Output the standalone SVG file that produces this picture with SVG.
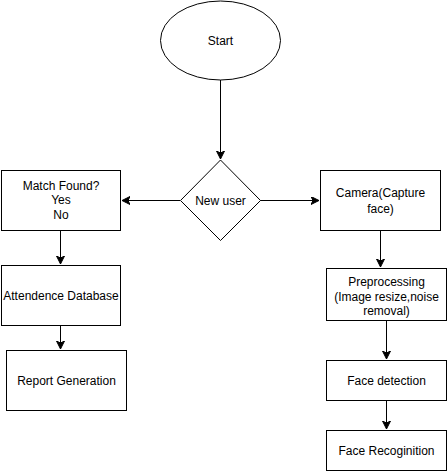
<svg xmlns="http://www.w3.org/2000/svg" width="447" height="471" viewBox="0 0 447 471">
<defs>
<marker id="arr" markerWidth="10" markerHeight="10" refX="8" refY="4" orient="auto" markerUnits="userSpaceOnUse">
<path d="M0,0 L8,4 L0,8 L2,4 Z" fill="#000" stroke="#000" stroke-width="1"/>
</marker>
</defs>
<style>
.n{fill:#fff;stroke:#000;stroke-width:1}
.t{font-family:"Liberation Sans",Arial,sans-serif;font-size:12px;fill:#000;text-anchor:middle}
.c{fill:none;stroke:#000;stroke-width:1;marker-end:url(#arr)}
</style>
<rect width="447" height="471" fill="#fff"/>
<g id="connectors">
<path class="c" d="M220.5,80 L220.5,159"/>
<path class="c" d="M180,200.5 L122,200.5"/>
<path class="c" d="M260,200.5 L319,200.5"/>
<path class="c" d="M60.5,230 L60.5,264"/>
<path class="c" d="M60.5,325 L60.5,349"/>
<path class="c" d="M380.5,230 L380.5,267"/>
<path class="c" d="M386.5,320 L386.5,359"/>
<path class="c" d="M386.5,400 L386.5,429"/>
</g>
<g id="start">
<ellipse class="n" cx="220.5" cy="40.5" rx="60" ry="39.5"/>
<text class="t" x="220.5" y="45">Start</text>
</g>
<g id="newuser">
<path class="n" d="M220.5,160 L260.5,200.5 L220.5,240.5 L180.5,200.5 Z"/>
<text class="t" x="220.5" y="205">New user</text>
</g>
<g id="match">
<rect class="n" x="1.5" y="170.5" width="119" height="60"/>
<text class="t" x="61" y="190">Match Found?</text>
<text class="t" x="61" y="204">Yes</text>
<text class="t" x="61" y="219">No</text>
</g>
<g id="attend">
<rect class="n" x="1.5" y="265.5" width="119" height="60"/>
<text class="t" x="61" y="300">Attendence Database</text>
</g>
<g id="report">
<rect class="n" x="6.5" y="350.5" width="120" height="60"/>
<text class="t" x="66.5" y="385">Report Generation</text>
</g>
<g id="camera">
<rect class="n" x="320.5" y="170.5" width="120" height="60"/>
<text class="t" x="380.5" y="197">Camera(Capture</text>
<text class="t" x="380.5" y="213">face)</text>
</g>
<g id="preproc">
<rect class="n" x="326.5" y="268.5" width="120" height="52"/>
<text class="t" x="386.5" y="286">Preprocessing</text>
<text class="t" x="386.5" y="301">(Image resize,noise</text>
<text class="t" x="386.5" y="315">removal)</text>
</g>
<g id="detect">
<rect class="n" x="326.5" y="360.5" width="120" height="40"/>
<text class="t" x="386.5" y="385">Face detection</text>
</g>
<g id="recog">
<rect class="n" x="326.5" y="430.5" width="120" height="40"/>
<text class="t" x="386.5" y="455">Face Recoginition</text>
</g>
</svg>
